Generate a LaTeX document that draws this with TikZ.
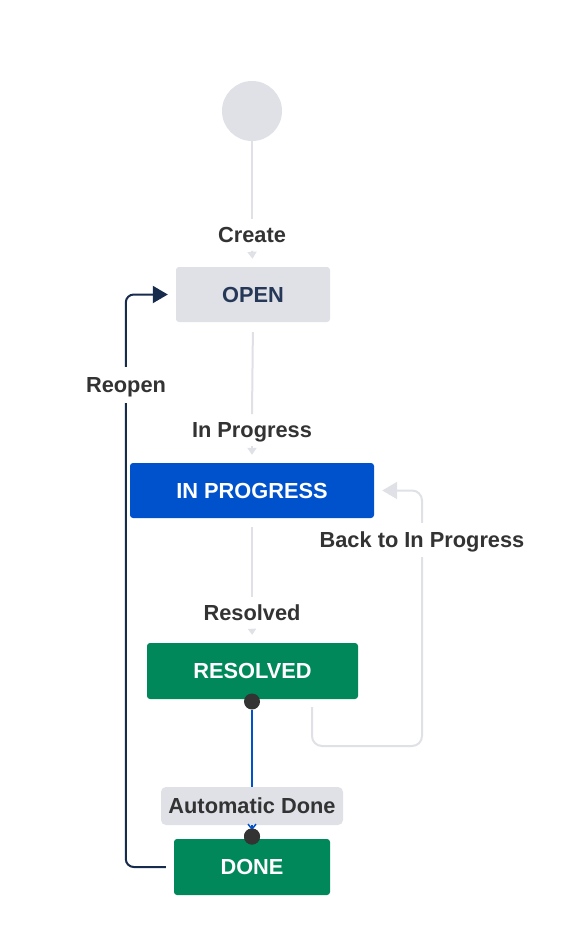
\documentclass[tikz,border=0pt]{standalone}
\usepackage{fontspec}
\setmainfont{Liberation Sans}
\usetikzlibrary{arrows.meta}
\definecolor{jgray}{HTML}{DFE1E6}
\definecolor{jnavytext}{HTML}{253858}
\definecolor{jnavy}{HTML}{172B4D}
\definecolor{jblue}{HTML}{0052CC}
\definecolor{jgreen}{HTML}{00875A}
\definecolor{jtext}{HTML}{333333}
\begin{document}
\begin{tikzpicture}[x=1pt,y=-1pt,
  statebox/.style={rectangle, rounded corners=3pt, inner sep=0pt, text=white,
    font=\fontsize{21.8}{26}\selectfont\bfseries, minimum height=55pt},
  lbl/.style={inner sep=0pt, text height=15.6pt, text depth=0pt, outer sep=8pt,
    text=jtext, font=\fontsize{21.8}{26}\selectfont\bfseries},
  gline/.style={draw=jgray, line width=2pt},
  gtip/.style={-{Triangle[width=9pt,length=7pt]}},
  bigtip/.style={-{Triangle[width=17pt,length=15pt]}},
  dotnode/.style={circle, fill=jtext, minimum size=16pt, inner sep=0pt}
]
\useasboundingbox[fill=white] (0,0) rectangle (560,948);

% states
\node[circle, fill=jgray, minimum size=60pt, inner sep=0pt] (start) at (252,111) {};
\node[statebox, fill=jgray, text=jnavytext, minimum width=154pt] (open) at (253,294.5) {OPEN};
\node[statebox, fill=jblue, minimum width=244pt] (inprog) at (252,490.5) {IN PROGRESS};
\node[statebox, fill=jgreen, minimum width=211pt, minimum height=56pt] (resolved) at (252.5,671) {RESOLVED};
\node[statebox, fill=jgreen, minimum width=156pt, minimum height=56pt] (done) at (252,867) {DONE};

% labels (positions)
\node[lbl] (lcreate) at (252,235) {Create};
\node[lbl] (lprog) at (252,430) {In Progress};
\node[lbl] (lres) at (252,613) {Resolved};

% straight transitions
\draw[gline] (start) -- (lcreate.north);
\draw[gline, gtip, shorten >=8pt] (lcreate.south) -- (open.north);
\draw[gline, shorten <=10pt] (open.south) -- (lprog.north);
\draw[gline, gtip, shorten >=8pt] (lprog.south) -- (inprog.north);
\draw[gline, shorten <=9pt] (inprog.south) -- (lres.north);
\draw[gline, -{Triangle[width=8pt,length=6pt]}, shorten >=8pt] (lres.south) -- (resolved.north);

% back to in progress
\coordinate (bk0) at (312,707);
\draw[gline, rounded corners=10pt, bigtip, shorten >=8pt]
  (bk0) -- ++(0,39) -- ++(110,0) |- (inprog.east);

% reopen
\draw[draw=jnavy, line width=2pt, rounded corners=8pt, bigtip, shorten <=8pt, shorten >=8pt]
  (done.west) -- ++(-48,0) |- (open.west);

% automatic done
\node[dotnode] (d1) at (252,701.5) {};
\node[dotnode] (d2) at (252,836.5) {};
\node[inner sep=0pt, fill=jgray, rounded corners=5pt, minimum width=182pt, minimum height=38pt,
  text=jtext, font=\fontsize{21.8}{26}\selectfont\bfseries] (lauto) at (252,806) {Automatic Done};
\draw[draw=jblue, line width=2pt] (d1) -- (lauto.north);
\draw[draw=jblue, line width=1.5pt, -{Straight Barb[width=8pt,length=5pt]}] (lauto.south) -- ([yshift=-2pt]d2.north);
\node[dotnode] at (d2) {};

% labels on bent connectors
\node[lbl, fill=white, outer sep=0pt, inner xsep=2pt, inner ysep=9pt] (lback) at (422,540) {Back to In Progress};
\node[lbl, fill=white, outer sep=0pt, inner xsep=2pt, inner ysep=10pt] (lreopen) at (126,385) {Reopen};
\end{tikzpicture}
\end{document}
